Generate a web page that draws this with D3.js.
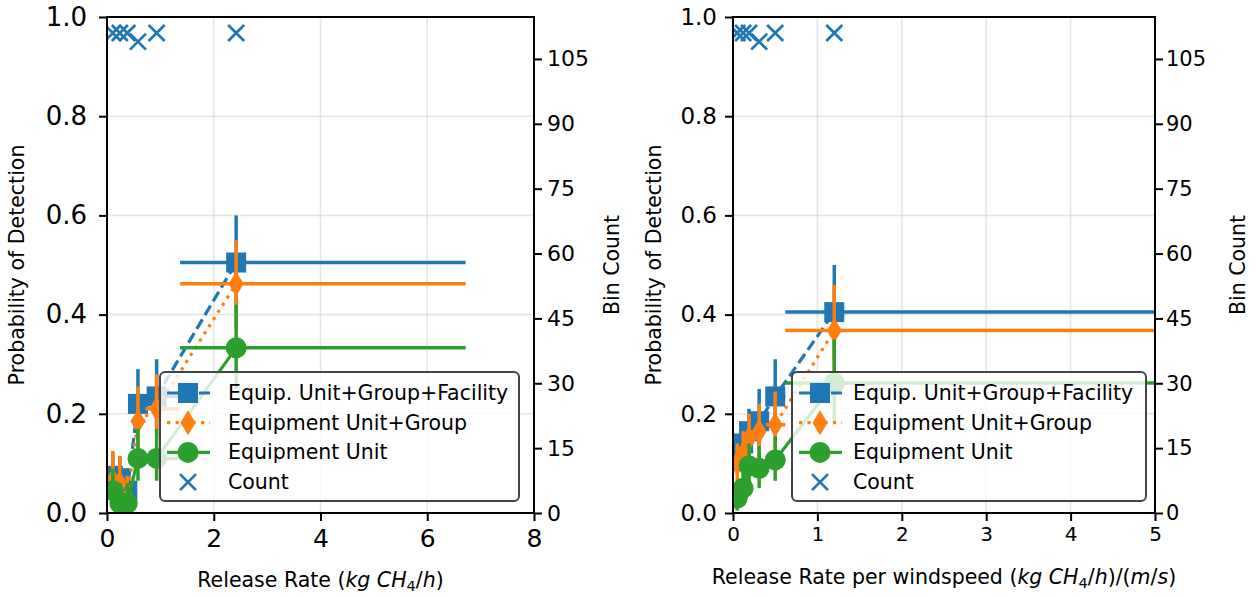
<!DOCTYPE html>
<html>
<head>
<meta charset="utf-8">
<script src="https://cdn.jsdelivr.net/npm/d3@7"></script>
<style>
  body { margin: 0; background: #fff; }
  text { font-family: "DejaVu Sans", sans-serif; }
</style>
</head>
<body>
<svg id="chart" width="1258" height="597"></svg>
<script>
// ---- left panel: release rate (kg CH4/h) ----
var rateX = [0.11, 0.24, 0.38, 0.58, 0.93, 2.42];
var rateEdges = [0.02, 0.17, 0.31, 0.46, 0.72, 1.37, 6.72];
var rateCount = [111, 111, 111, 109, 111, 111];
var rateFacility = [0.075, 0.07, 0.045, 0.22, 0.235, 0.505];
var rateFacilityLo = [0.03, 0.03, 0.01, 0.16, 0.17, 0.41];
var rateFacilityHi = [0.12, 0.115, 0.09, 0.29, 0.31, 0.60];
var rateGroup = [0.065, 0.06, 0.03, 0.185, 0.21, 0.462];
var rateGroupLo = [0.025, 0.02, 0.005, 0.13, 0.15, 0.37];
var rateGroupHi = [0.125, 0.115, 0.075, 0.255, 0.28, 0.55];
var rateUnit = [0.045, 0.02, 0.02, 0.11, 0.11, 0.333];
var rateUnitLo = [0.015, 0.0, 0.0, 0.065, 0.065, 0.25];
var rateUnitHi = [0.09, 0.06, 0.06, 0.17, 0.17, 0.42];

// ---- right panel: release rate per windspeed ----
var windX = [0.05, 0.12, 0.19, 0.31, 0.5, 1.2];
var windEdges = [0.0, 0.09, 0.155, 0.24, 0.39, 0.62, 6.0];
var windCount = [111, 111, 111, 109, 111, 111];
var windFacility = [0.115, 0.14, 0.165, 0.185, 0.235, 0.405];
var windFacilityLo = [0.08, 0.1, 0.12, 0.13, 0.17, 0.31];
var windFacilityHi = [0.15, 0.18, 0.21, 0.25, 0.31, 0.50];
var windGroup = [0.1, 0.12, 0.15, 0.165, 0.178, 0.368];
var windGroupLo = [0.06, 0.08, 0.1, 0.11, 0.12, 0.28];
var windGroupHi = [0.14, 0.165, 0.2, 0.22, 0.245, 0.46];
var windUnit = [0.03, 0.05, 0.095, 0.09, 0.107, 0.262];
var windUnitLo = [0.005, 0.02, 0.055, 0.05, 0.065, 0.18];
var windUnitHi = [0.06, 0.085, 0.14, 0.135, 0.155, 0.35];

var podTicks = [0, 0.2, 0.4, 0.6, 0.8, 1.0];
var countTicks = [0, 15, 30, 45, 60, 75, 90, 105];
var countMax = 114.7;
var seriesNames = ["Equip. Unit+Group+Facility", "Equipment Unit+Group", "Equipment Unit", "Count"];

var BLUE = "#1f77b4", ORANGE = "#ff7f0e", GREEN = "#2ca02c";
var svg = d3.select("#chart");
var TOP = 17, BOTTOM = 513;
var LABEL_FONT = 20.5;

function marker(sel, kind, color) {
	// draws one marker centred on 0,0
	if (kind == "s") {
		sel.append("rect").attr("x", -10).attr("y", -10).attr("width", 20).attr("height", 20).attr("fill", color);
	} else if (kind == "d") {
		sel.append("path").attr("d", "M0,-12.5L7.5,0L0,12.5L-7.5,0Z").attr("fill", color);
	} else if (kind == "o") {
		sel.append("circle").attr("r", 10.5).attr("fill", color);
	} else {
		sel.append("path").attr("d", "M-8,-8L8,8M-8,8L8,-8").attr("stroke", color)
			.attr("stroke-width", 2.7).attr("fill", "none");
	}
}

function drawPanel(p) {
	var g = svg.append("g");
	var x = d3.scaleLinear().domain(p.xDomain).range([p.left, p.right]);
	var y = d3.scaleLinear().domain([0, 1]).range([BOTTOM, TOP]);
	var yc = d3.scaleLinear().domain([0, countMax]).range([BOTTOM, TOP]);

	var clipId = "clip" + p.id;
	svg.append("clipPath").attr("id", clipId).append("rect")
		.attr("x", p.left).attr("y", TOP).attr("width", p.right - p.left).attr("height", BOTTOM - TOP);

	// grid
	var grid = g.append("g").attr("stroke", "#b0b0b0").attr("stroke-opacity", 0.3).attr("stroke-width", 1.6);
	p.xTicks.forEach(function (t) {
		grid.append("line").attr("x1", x(t)).attr("x2", x(t)).attr("y1", TOP).attr("y2", BOTTOM);
	});
	podTicks.forEach(function (t) {
		grid.append("line").attr("x1", p.left).attr("x2", p.right).attr("y1", y(t)).attr("y2", y(t));
	});

	var plot = g.append("g").attr("clip-path", "url(#" + clipId + ")");

	p.series.forEach(function (s) {
		var sg = plot.append("g");
		// error bars: horizontal = bin extent, vertical = interval
		s.values.forEach(function (v, i) {
			sg.append("line").attr("x1", x(p.edges[i])).attr("x2", x(p.edges[i + 1]))
				.attr("y1", y(v)).attr("y2", y(v))
				.attr("stroke", s.color).attr("stroke-width", 3.5);
			sg.append("line").attr("x1", x(p.xs[i])).attr("x2", x(p.xs[i]))
				.attr("y1", y(s.lo[i])).attr("y2", y(s.hi[i]))
				.attr("stroke", s.color).attr("stroke-width", 3.5);
		});
		var line = d3.line().x(function (d, i) { return x(p.xs[i]); }).y(function (d) { return y(d); });
		sg.append("path").datum(s.values).attr("d", line).attr("fill", "none")
			.attr("stroke", s.color).attr("stroke-width", 3.2)
			.attr("stroke-dasharray", s.dash);
		s.values.forEach(function (v, i) {
			marker(sg.append("g").attr("transform", "translate(" + x(p.xs[i]) + "," + y(v) + ")"), s.marker, s.color);
		});
	});

	// counts on the twin axis
	p.counts.forEach(function (c, i) {
		marker(plot.append("g").attr("transform", "translate(" + x(p.xs[i]) + "," + yc(c) + ")"), "x", BLUE);
	});

	// frame
	g.append("rect").attr("x", p.left).attr("y", TOP).attr("width", p.right - p.left).attr("height", BOTTOM - TOP)
		.attr("fill", "none").attr("stroke", "#000").attr("stroke-width", 2);

	var ax = g.append("g").attr("transform", "translate(0," + BOTTOM + ")")
		.call(d3.axisBottom(x).tickValues(p.xTicks).tickFormat(d3.format("d")).tickSize(8).tickPadding(p.xPad));
	ax.selectAll("text").attr("font-size", p.xFont);
	var ay = g.append("g").attr("transform", "translate(" + p.left + ",0)")
		.call(d3.axisLeft(y).tickValues(podTicks).tickFormat(d3.format(".1f")).tickSize(8).tickPadding(p.yPad));
	ay.selectAll("text").attr("font-size", p.yFont);
	var ac = g.append("g").attr("transform", "translate(" + p.right + ",0)")
		.call(d3.axisRight(yc).tickValues(countTicks).tickSize(8).tickPadding(p.cPad));
	ac.selectAll("text").attr("font-size", p.cFont);
	[ax, ay, ac].forEach(function (a) {
		a.select(".domain").remove();
		a.selectAll("line").attr("stroke-width", 2);
		a.selectAll("text").attr("font-family", "DejaVu Sans").attr("fill", "#000");
	});

	// axis labels
	var xl = g.append("text").attr("x", (p.left + p.right) / 2).attr("y", p.xLabelY)
		.attr("text-anchor", "middle").attr("font-size", LABEL_FONT);
	p.xLabel(xl);
	g.append("text").attr("transform", "translate(" + p.yLabelX + "," + (TOP + BOTTOM) / 2 + ") rotate(-90)")
		.attr("text-anchor", "middle").attr("font-size", LABEL_FONT).text("Probability of Detection");
	g.append("text").attr("transform", "translate(" + p.cLabelX + "," + (TOP + BOTTOM) / 2 + ") rotate(-90)")
		.attr("text-anchor", "middle").attr("font-size", LABEL_FONT).text("Bin Count");

	// legend
	var lg = g.append("g").attr("transform", "translate(" + p.legendX + ",372)");
	lg.append("rect").attr("width", p.legendW).attr("height", 129).attr("rx", 5)
		.attr("fill", "#fff").attr("fill-opacity", 0.8).attr("stroke", "#444").attr("stroke-width", 2);
	var items = p.series.concat([{ color: BLUE, marker: "x", dash: null, noLine: true }]);
	items.forEach(function (s, i) {
		var row = lg.append("g").attr("transform", "translate(0," + (21 + i * 29.7) + ")");
		if (!s.noLine) {
			row.append("line").attr("x1", 7).attr("x2", 50).attr("stroke", s.color)
				.attr("stroke-width", 3.2).attr("stroke-dasharray", s.dash);
		}
		marker(row.append("g").attr("transform", "translate(28,0)"), s.marker, s.color);
		row.append("text").attr("x", p.legendTextX).attr("y", 7).attr("font-size", 20.5).text(seriesNames[i]);
	});
}

function rateLabel(t) {
	t.append("tspan").text("Release Rate (");
	t.append("tspan").attr("font-style", "italic").text("kg CH");
	t.append("tspan").attr("font-size", 14.5).attr("dy", 4).text("4");
	t.append("tspan").attr("dy", -4).text("/");
	t.append("tspan").attr("font-style", "italic").text("h");
	t.append("tspan").text(")");
}

function windLabel(t) {
	t.append("tspan").text("Release Rate per windspeed (");
	t.append("tspan").attr("font-style", "italic").text("kg CH");
	t.append("tspan").attr("font-size", 14.5).attr("dy", 4).text("4");
	t.append("tspan").attr("dy", -4).text("/");
	t.append("tspan").attr("font-style", "italic").text("h");
	t.append("tspan").text(")/(");
	t.append("tspan").attr("font-style", "italic").text("m");
	t.append("tspan").text("/");
	t.append("tspan").attr("font-style", "italic").text("s");
	t.append("tspan").text(")");
}

drawPanel({
	id: "L", left: 107, right: 534, xDomain: [0, 8], xTicks: [0, 2, 4, 6, 8],
	xs: rateX, edges: rateEdges, counts: rateCount,
	series: [
		{ values: rateFacility, lo: rateFacilityLo, hi: rateFacilityHi, color: BLUE, marker: "s", dash: "11,5" },
		{ values: rateGroup, lo: rateGroupLo, hi: rateGroupHi, color: ORANGE, marker: "d", dash: "3.2,5.3" },
		{ values: rateUnit, lo: rateUnitLo, hi: rateUnitHi, color: GREEN, marker: "o", dash: null }
	],
	xFont: 25, yFont: 26, cFont: 22, xPad: 8, yPad: 12, cPad: 5,
	xLabel: rateLabel, xLabelY: 587, yLabelX: 24, cLabelX: 619,
	legendX: 160, legendW: 359, legendTextX: 68
});

drawPanel({
	id: "R", left: 733, right: 1155, xDomain: [0, 5], xTicks: [0, 1, 2, 3, 4, 5],
	xs: windX, edges: windEdges, counts: windCount,
	series: [
		{ values: windFacility, lo: windFacilityLo, hi: windFacilityHi, color: BLUE, marker: "s", dash: "11,5" },
		{ values: windGroup, lo: windGroupLo, hi: windGroupHi, color: ORANGE, marker: "d", dash: "3.2,5.3" },
		{ values: windUnit, lo: windUnitLo, hi: windUnitHi, color: GREEN, marker: "o", dash: null }
	],
	xFont: 20, yFont: 23, cFont: 21, xPad: 6, yPad: 8, cPad: 3,
	xLabel: windLabel, xLabelY: 584, yLabelX: 661, cLabelX: 1245,
	legendX: 792, legendW: 354, legendTextX: 61
});
</script>
</body>
</html>
